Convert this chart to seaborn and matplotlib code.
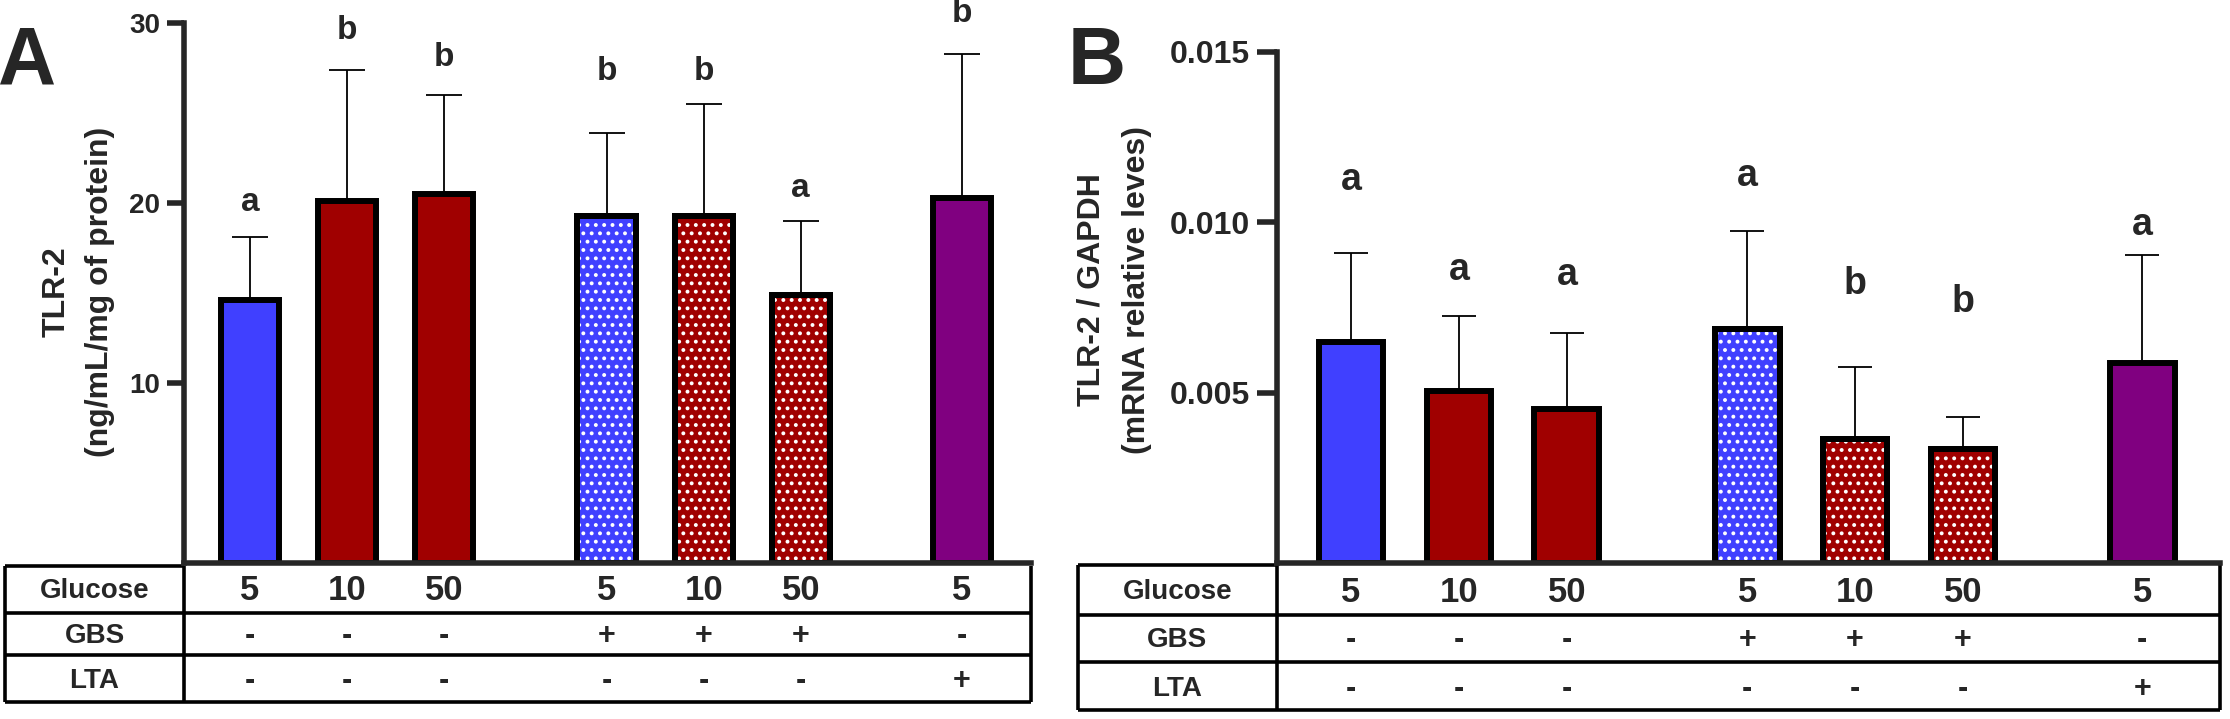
import numpy as np
import pandas as pd
import seaborn as sns
import matplotlib.pyplot as plt
from matplotlib import transforms

# groups, in the order of the bars
groups = ['G5', 'G10', 'G50', 'GBS5', 'GBS10', 'GBS50', 'LTA5']
positions = [0, 1, 2, 3.67, 4.67, 5.67, 7.33]
bar_colors = ['#4040ff', '#a00000', '#a00000', '#4040ff', '#a00000', '#a00000', '#800080']
dotted = [False, False, False, True, True, True, False]

row_names = ['Glucose', 'GBS', 'LTA']
glucose = ['5', '10', '50', '5', '10', '50', '5']
gbs = ['-', '-', '-', '+', '+', '+', '-']
lta = ['-', '-', '-', '-', '-', '-', '+']

# panel A : protein
protein_mean = [14.6, 20.1, 20.5, 19.3, 19.3, 14.9, 20.3]
protein_upper = [18.1, 27.4, 26.0, 23.9, 25.5, 19.0, 28.3]
protein_letters = ['a', 'b', 'b', 'b', 'b', 'a', 'b']
protein_letter_y = [20.0, 29.6, 28.1, 27.3, 27.3, 20.8, 30.5]

# panel B : mRNA
mrna_mean = [0.00650, 0.00505, 0.00452, 0.00688, 0.00365, 0.00335, 0.00586]
mrna_upper = [0.00909, 0.00724, 0.00674, 0.00976, 0.00576, 0.00430, 0.00904]
mrna_letters = ['a', 'a', 'a', 'a', 'b', 'b', 'a']
mrna_letter_y = [0.01124, 0.00859, 0.00844, 0.01135, 0.00818, 0.00767, 0.00992]

sns.set_style('ticks')
plt.rcParams['font.family'] = ['Liberation Sans', 'DejaVu Sans']
plt.rcParams['hatch.linewidth'] = 1.6
narrow = ['Liberation Sans Narrow', 'Liberation Sans', 'DejaVu Sans']

W, H = 2230, 719
fig = plt.figure(figsize=(W / 100, H / 100), dpi=100)
bg = fig.add_axes([0, 0, 1, 1], zorder=0)
bg.set_xlim(0, W)
bg.set_ylim(H, 0)
bg.axis('off')


def px_axes(left, right, top, bottom):
    return fig.add_axes([left / W, 1 - bottom / H, (right - left) / W, (bottom - top) / H], zorder=1)


def draw_panel(ax, means, uppers, letters, letter_y, xlim, ymax, yticks, ticklabels,
               tick_size, tick_len, letter_size, capsize):
    df = pd.DataFrame({'pos': positions, 'value': means, 'group': groups})
    sns.barplot(data=df, x='pos', y='value', hue='group', hue_order=groups,
                palette=dict(zip(groups, bar_colors)), native_scale=True, dodge=False,
                width=0.6, saturation=1, errorbar=None, legend=False,
                edgecolor='black', linewidth=4.3, ax=ax)

    # white dots on the GBS bars
    dx = [p for p, d in zip(positions, dotted) if d]
    dy = [m for m, d in zip(means, dotted) if d]
    ax.bar(dx, dy, width=0.6, facecolor='none', edgecolor='white', hatch='..', linewidth=0, zorder=2)
    ax.bar(dx, dy, width=0.6, fill=False, edgecolor='black', linewidth=4.3, zorder=2.1)

    lower = np.zeros(len(means))
    upper = np.array(uppers) - np.array(means)
    ax.errorbar(positions, means, yerr=[lower, upper], fmt='none', ecolor='black',
                elinewidth=1.3, capsize=capsize, capthick=1.3, zorder=0.9)

    for p, l, y in zip(positions, letters, letter_y):
        ax.text(p, y, l, ha='center', va='center', fontsize=letter_size,
                fontweight='bold', family=narrow, clip_on=False)

    ax.set_xlim(*xlim)
    ax.set_ylim(0, ymax)
    ax.set_yticks(yticks)
    ax.set_yticklabels(ticklabels)
    ax.set_xticks([])
    ax.set_xlabel('')
    ax.set_ylabel('')
    ax.spines['top'].set_visible(False)
    ax.spines['right'].set_visible(False)
    ax.spines['left'].set_linewidth(4)
    ax.spines['bottom'].set_linewidth(4)
    ax.tick_params(axis='y', length=tick_len, width=4, pad=5, labelsize=tick_size)
    for t in ax.get_yticklabels():
        t.set_fontweight('bold')
    ax.patch.set_visible(False)


def draw_table(ax, left, div, right, top, rows, bottom, text_y):
    lw = 2.6
    bg.plot([left, div], [top, top], color='black', lw=lw, solid_capstyle='butt')
    for y in rows + [bottom]:
        bg.plot([left, right], [y, y], color='black', lw=lw, solid_capstyle='butt')
    for x in [left, div, right]:
        bg.plot([x, x], [top, bottom], color='black', lw=lw, solid_capstyle='butt')
    trans = transforms.blended_transform_factory(ax.transData, bg.transData)
    for name, vals, y in zip(row_names, [glucose, gbs, lta], text_y):
        bg.text((left + div) / 2, y, name, ha='center', va='center', fontsize=20,
                fontweight='bold', family=narrow)
        for p, v in zip(positions, vals):
            if v in '+-':
                bg.text(p, y, v, transform=trans, ha='center', va='center',
                        fontsize=22, fontweight='bold')
            else:
                bg.text(p, y, v, transform=trans, ha='center', va='center',
                        fontsize=25, fontweight='bold', family=narrow)


# ---- panel A
axA = px_axes(184, 1031, 23, 563)
draw_panel(axA, protein_mean, protein_upper, protein_letters, protein_letter_y,
           (-0.68, 8.04), 30, [10, 20, 30], ['10', '20', '30'],
           20, 12, 24, 13)
draw_table(axA, 5, 184, 1031, 566, [613, 655], 702, [591, 636, 681])
bg.text(65, 292, 'TLR-2', rotation=90, rotation_mode='anchor', ha='center', va='baseline',
        fontsize=23, fontweight='bold')
bg.text(108, 292, '(ng/mL/mg of protein)', rotation=90, rotation_mode='anchor', ha='center',
        va='baseline', fontsize=23, fontweight='bold')
bg.text(27, 63, 'A', ha='center', va='center', fontsize=58, fontweight='bold', family=narrow)

# ---- panel B
axB = px_axes(1277, 2220, 52, 563)
draw_panel(axB, mrna_mean, mrna_upper, mrna_letters, mrna_letter_y,
           (-0.685, 8.05), 0.015, [0.005, 0.010, 0.015], ['0.005', '0.010', '0.015'],
           23, 14.5, 27, 12)
draw_table(axB, 1078, 1277, 2220, 565, [615, 662], 710, [592, 640, 689])
bg.text(1100, 290, 'TLR-2 / GAPDH', rotation=90, rotation_mode='anchor', ha='center',
        va='baseline', fontsize=23, fontweight='bold')
bg.text(1145, 290, '(mRNA relative leves)', rotation=90, rotation_mode='anchor', ha='center',
        va='baseline', fontsize=23, fontweight='bold')
bg.text(1097, 63, 'B', ha='center', va='center', fontsize=58, fontweight='bold', family=narrow)

fig.savefig('out.png', dpi=100)
